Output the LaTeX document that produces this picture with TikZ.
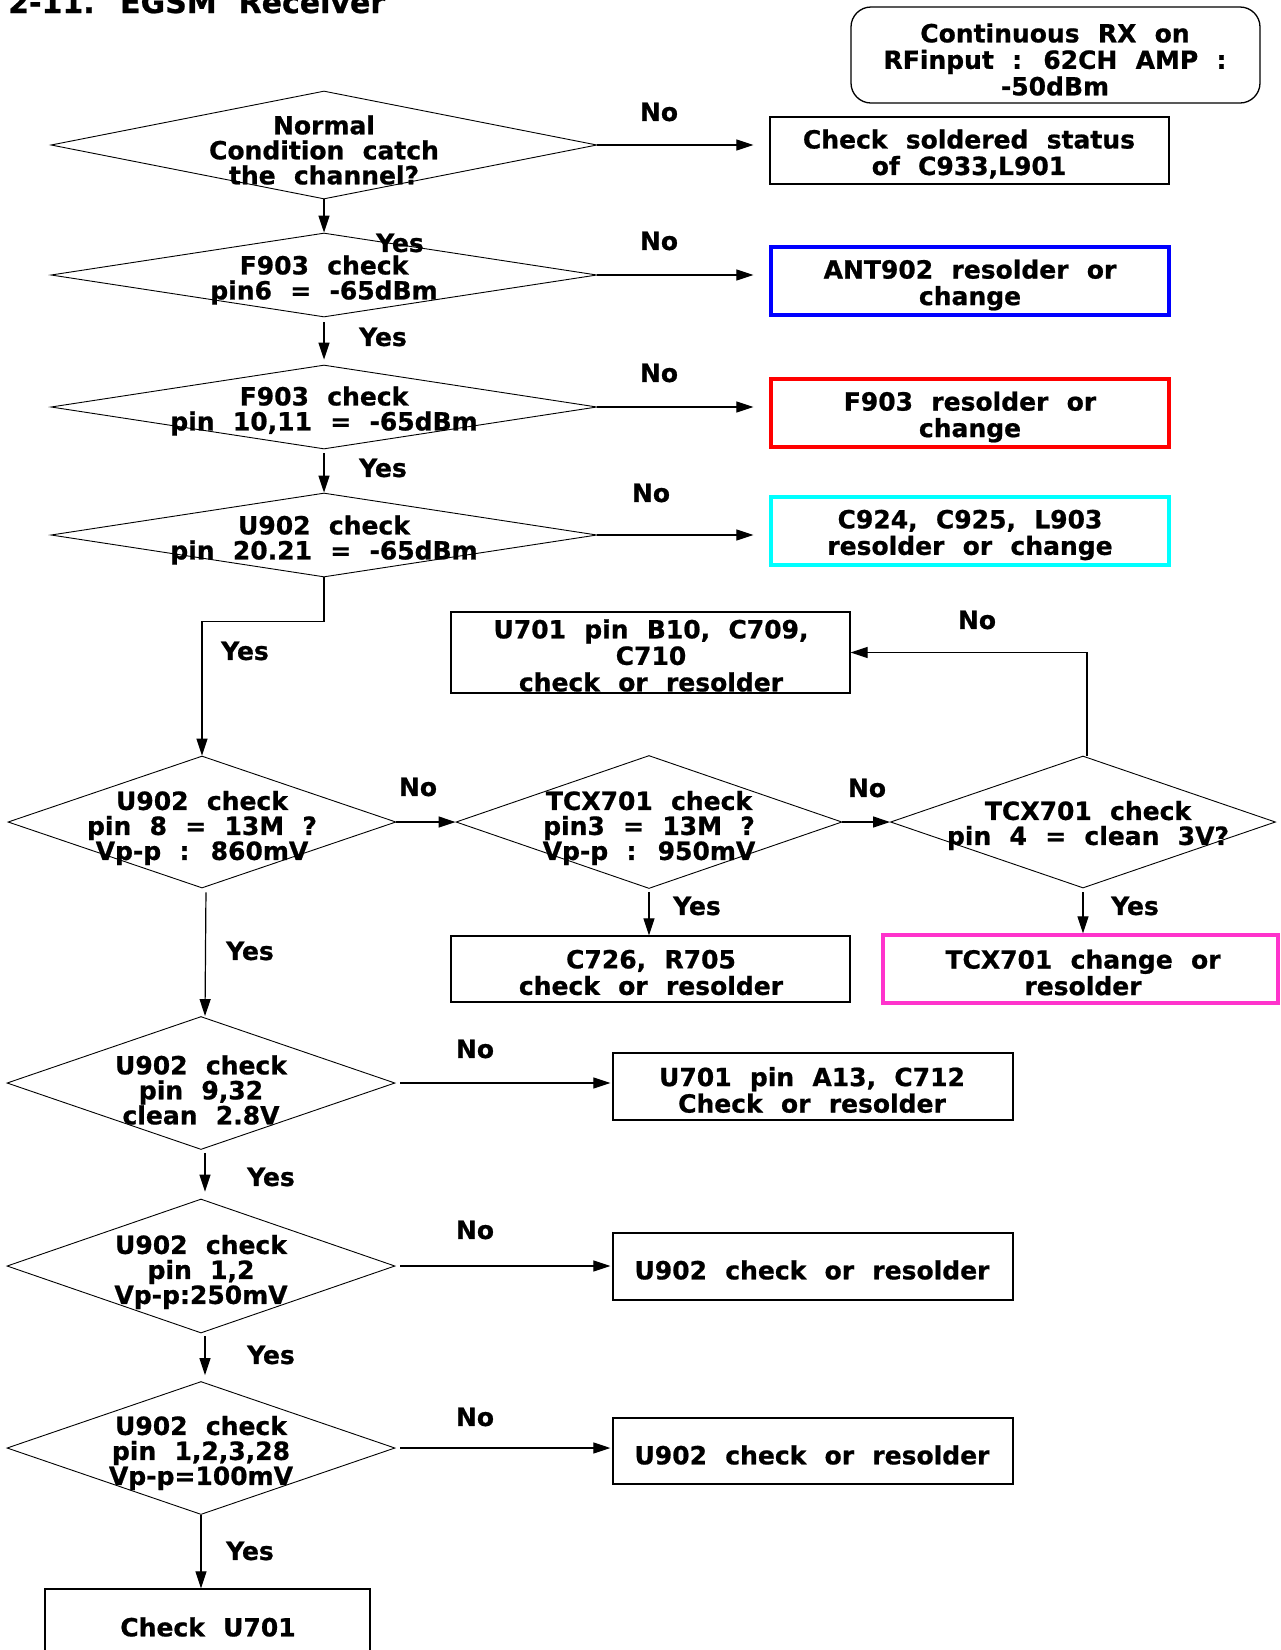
\documentclass[tikz,border=0pt]{standalone}
\usepackage{fontspec}
\newfontfamily\dv{DejaVu Sans}[WordSpace=2.1, BoldFeatures={FakeBold=0.8}]
\usetikzlibrary{shapes.geometric,arrows.meta,calc}
\definecolor{bblue}{RGB}{0,0,255}
\definecolor{bred}{RGB}{255,0,0}
\definecolor{bcyan}{RGB}{0,255,255}
\definecolor{bmag}{RGB}{255,51,204}
\tikzset{
  dia/.style={diamond, draw, line width=0.9pt, inner sep=0pt},
  bx/.style={draw, line width=1.3pt, inner sep=0pt},
  cbx/.style={draw=#1, line width=3.3pt, inner sep=0pt},
  dtxt/.style={font=\dv\bfseries\fontsize{25}{25}\selectfont, align=center, inner sep=0pt},
  btxt/.style={font=\dv\bfseries\fontsize{25}{26.5}\selectfont, align=center, inner sep=0pt},
  lbl/.style={font=\dv\bfseries\fontsize{25}{25}\selectfont, inner sep=0pt},
  arr/.style={line width=1.2pt, -{Triangle[length=17pt,width=11pt]}}
}
\begin{document}
\begin{tikzpicture}[x=1pt,y=-1pt]
\clip (0,0) rectangle (1281,1650);
\fill[white] (0,0) rectangle (1281,1650);

% title
\node[anchor=base west, inner sep=0pt, font=\dv\bfseries\fontsize{30}{30}\selectfont] (title) at (8,13) {2-11. EGSM Receiver};

% diamonds
\node[dia, minimum width=546pt, minimum height=108pt] (d1) at (324,145) {};
\node[dia, minimum width=546pt, minimum height=84pt] (d2) at (324,275) {};
\node[dia, minimum width=546pt, minimum height=84pt] (d3) at (324,407) {};
\node[dia, minimum width=546pt, minimum height=84pt] (d4) at (324,535) {};
\node[dia, minimum width=388pt, minimum height=132pt] (d5) at (202,822) {};
\node[dia, minimum width=386pt, minimum height=133pt] (d6) at (649,822) {};
\node[dia, minimum width=385pt, minimum height=132pt] (d8) at (1083,822) {};
\node[dia, minimum width=388pt, minimum height=133pt] (d7) at (201,1083) {};
\node[dia, minimum width=388pt, minimum height=134pt] (d9) at (201,1266) {};
\node[dia, minimum width=388pt, minimum height=133pt] (d10) at (201,1448) {};

% diamond texts
\node[dtxt] (dt1) at (324,150) {Normal\\Condition catch\\the channel?};
\node[dtxt] (dt2) at (324,280) {F903 check\\pin6 = -65dBm};
\node[dtxt] (dt3) at (324,411) {F903 check\\pin 10,11 = -65dBm};
\node[dtxt] (dt4) at (324,540) {U902 check\\pin 20.21 = -65dBm};
\node[dtxt] (dt5) at (202,828) {U902 check\\pin 8 = 13M ?\\Vp-p : 860mV};
\node[dtxt] (dt6) at (649,828) {TCX701 check\\pin3 = 13M ?\\Vp-p : 950mV};
\node[dtxt] (dt8) at (1088,825.5) {TCX701 check\\pin 4 = clean 3V?};
\node[dtxt] (dt7) at (201,1090) {U902 check\\pin 9,32\\clean 2.8V};
\node[dtxt] (dt9) at (201,1272) {U902 check\\pin 1,2\\Vp-p:250mV};
\node[dtxt] (dt10) at (201,1453) {U902 check\\pin 1,2,3,28\\Vp-p=100mV};

% boxes
\node[bx, rounded corners=20pt, minimum width=409pt, minimum height=96pt] (b0) at (1055.5,55) {};
\node[bx, minimum width=399pt, minimum height=67pt] (b1) at (969.5,150.5) {};
\node[cbx=bblue, minimum width=398pt, minimum height=68pt] (b2) at (970,281) {};
\node[cbx=bred, minimum width=398pt, minimum height=68pt] (b3) at (970,413) {};
\node[cbx=bcyan, minimum width=398pt, minimum height=68pt] (b4) at (970,531) {};
\node[bx, minimum width=399pt, minimum height=81pt] (b5) at (650.5,652.5) {};
\node[bx, minimum width=399pt, minimum height=66pt] (b6) at (650.5,969) {};
\node[cbx=bmag, minimum width=395pt, minimum height=68pt] (b7) at (1080.5,969) {};
\node[bx, minimum width=400pt, minimum height=67pt] (b8) at (813,1086.5) {};
\node[bx, minimum width=400pt, minimum height=67pt] (b9) at (813,1266.5) {};
\node[bx, minimum width=400pt, minimum height=66pt] (b10) at (813,1451) {};
\node[bx, minimum width=325pt, minimum height=91pt] (b11) at (207.5,1634.5) {};

% box texts
\node[btxt] (t0) at (1055,59.5) {Continuous RX on\\RFinput : 62CH AMP :\\-50dBm};
\node[btxt] (t1) at (969,154) {Check soldered status\\of C933,L901};
\node[btxt] (t2) at (970,285) {ANT902 resolder or\\change};
\node[btxt] (t3) at (970,417) {F903 resolder or\\change};
\node[btxt] (t4) at (970,535) {C924, C925, L903\\resolder or change};
\node[btxt] (t5) at (651,655.5) {U701 pin B10, C709,\\C710\\check or resolder};
\node[btxt] (t6) at (651,972.5) {C726, R705\\check or resolder};
\node[btxt] (t7) at (1083,972.5) {TCX701 change or\\resolder};
\node[btxt] (t8) at (812,1090) {U701 pin A13, C712\\Check or resolder};
\node[btxt] (t9) at (812,1270) {U902 check or resolder};
\node[btxt] (t10) at (812,1455) {U902 check or resolder};
\node[btxt] (t11) at (208,1627) {Check U701};

% connectors
\draw[arr] (d1.south) -- (d2.north);
\draw[arr, shorten >=16pt] (d1.east) -- (d1.east -| b1.west);
\draw[arr, shorten >=16pt] (d2.east) -- (d2.east -| b2.west);
\draw[arr, shorten >=16pt] (d3.east) -- (d3.east -| b3.west);
\draw[arr, shorten >=16pt] (d4.east) -- (d4.east -| b4.west);
\draw[arr, shorten <=5pt, shorten >=5pt] (d2.south) -- (d3.north);
\draw[arr, shorten <=4pt] (d3.south) -- (d4.north);
\draw[arr] (d4.south) -- ++(0,44) -| (d5.north);
\draw[arr] (d5.east) -- (d6.west);
\draw[arr] (d6.east) -- (d8.west);
\draw[arr] ([xshift=4pt]d8.north) |- (b5.east);
\draw[arr, shorten <=3pt] (d6.south) -- (d6.south |- b6.north);
\draw[arr, shorten <=4pt] (d8.south) -- (d8.south |- b7.north);
\draw[arr, shorten <=4pt] ([xshift=4pt]d5.south) -- ([xshift=4pt]d7.north);
\draw[arr, shorten <=5pt, shorten >=2pt] (d7.east) -- (d7.east -| b8.west);
\draw[arr, shorten <=3pt, shorten >=7pt] ([xshift=4pt]d7.south) -- ([xshift=4pt]d9.north);
\draw[arr, shorten <=5pt, shorten >=2pt] (d9.east) -- (d9.east -| b9.west);
\draw[arr, shorten <=3pt, shorten >=6pt] ([xshift=4pt]d9.south) -- ([xshift=4pt]d10.north);
\draw[arr, shorten <=5pt, shorten >=2pt] (d10.east) -- (d10.east -| b10.west);
\draw[arr] (d10.south) -- (d10.south |- b11.north);

% labels
\node[lbl] (n1) at (659,112) {No};
\node[lbl] (y1) at (400,243) {Yes};
\node[lbl] (n2) at (659,241) {No};
\node[lbl] (y2) at (383,337) {Yes};
\node[lbl] (n3) at (659,373) {No};
\node[lbl] (y3) at (383,468) {Yes};
\node[lbl] (n4) at (651,493) {No};
\node[lbl] (y4) at (245,651) {Yes};
\node[lbl] (n5) at (418,787) {No};
\node[lbl] (n6) at (867,788) {No};
\node[lbl] (n7) at (977,620) {No};
\node[lbl] (y5) at (697,906) {Yes};
\node[lbl] (y6) at (1135,906) {Yes};
\node[lbl] (y7) at (250,951) {Yes};
\node[lbl] (n8) at (475,1049) {No};
\node[lbl] (y8) at (271,1177) {Yes};
\node[lbl] (n9) at (475,1230) {No};
\node[lbl] (y9) at (271,1355) {Yes};
\node[lbl] (n10) at (475,1417) {No};
\node[lbl] (y10) at (250,1551) {Yes};
\end{tikzpicture}
\end{document}
